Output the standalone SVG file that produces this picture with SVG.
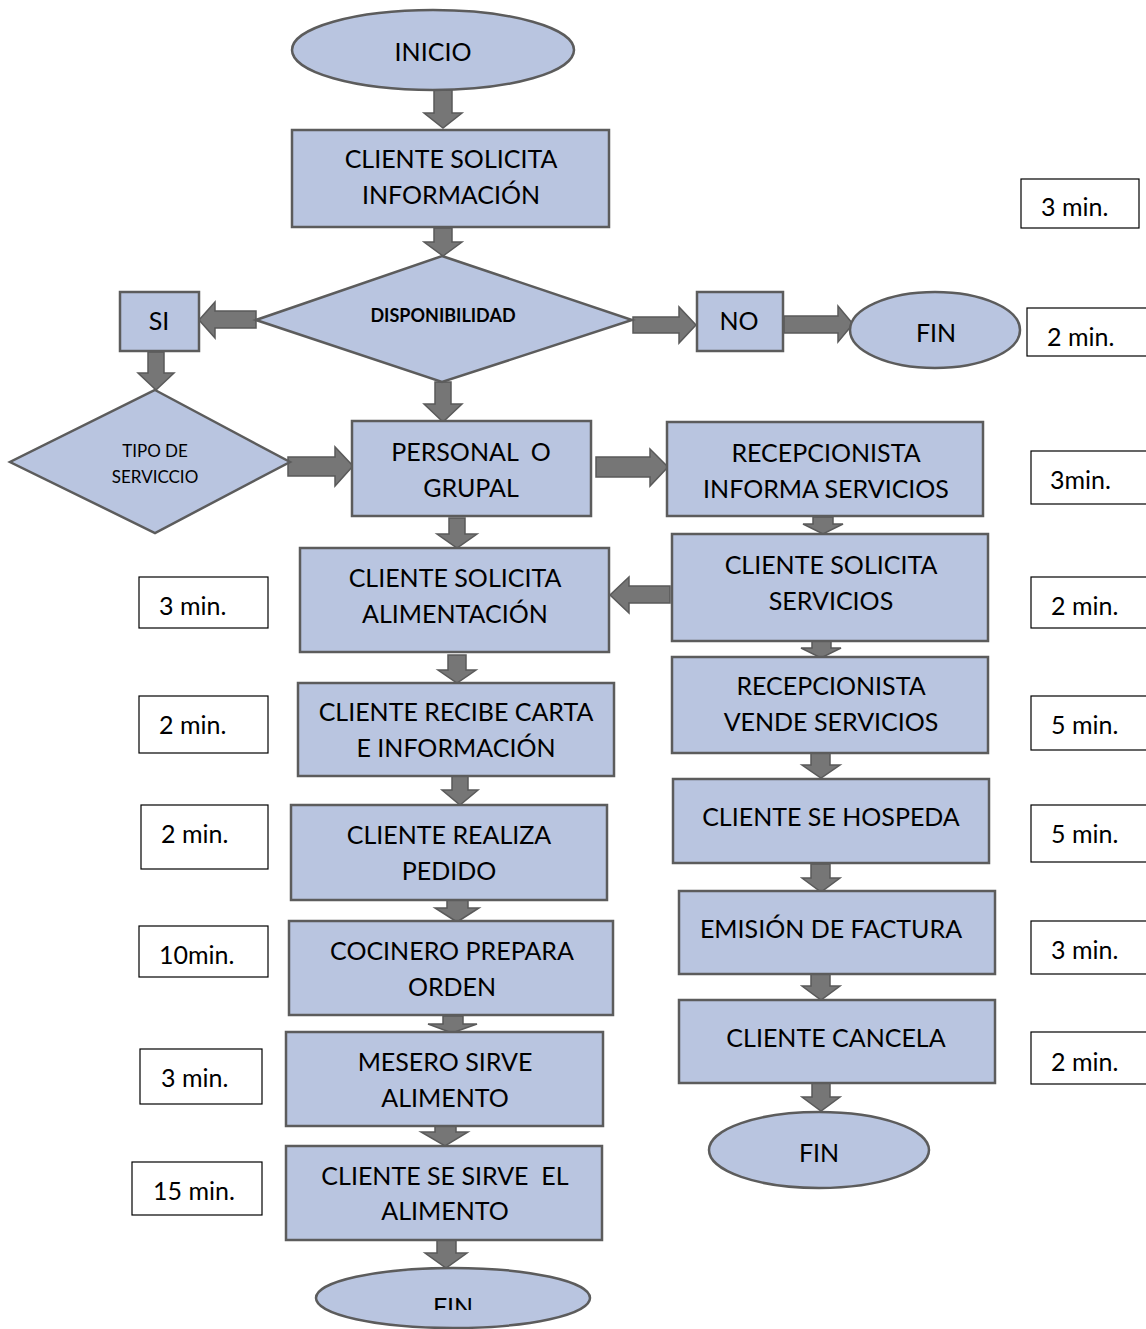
<svg xmlns="http://www.w3.org/2000/svg" width="1146" height="1329" viewBox="0 0 1146 1329">
  <style>
    .shape { fill: #b9c5e0; stroke: #5c5c5c; stroke-width: 2.5; }
    .note { fill: #ffffff; stroke: #000000; stroke-width: 1.2; }
    .arrow { fill: #767676; stroke: #5a5a5a; stroke-width: 1.5; stroke-linejoin: miter; }
    text { font-family: Lato, "Liberation Sans", sans-serif; font-size: 25px; fill: #000000; }
    .c { text-anchor: middle; }
    .small { font-size: 17px; }
    .bold { font-size: 18px; font-weight: bold; }
  </style>
  <defs>
    <clipPath id="finClip">
      <rect x="300" y="1260" width="320" height="50"/>
    </clipPath>
  </defs>

  <rect width="1146" height="1329" fill="#ffffff"/>

  <!-- connectors -->
  <g id="connectors">
    <polygon class="arrow" points="434,90 452,90 452,113 462,113 443,128 424,113 434,113"/>
    <polygon class="arrow" points="434,228 452,228 452,242 462,242 443,256 424,242 434,242"/>
    <polygon class="arrow" points="256,311 215,311 215,302 199,320 215,338 215,328 256,328"/>
    <polygon class="arrow" points="633,317 679,317 679,307 696,325 679,343 679,333 633,333"/>
    <polygon class="arrow" points="784,316 838,316 838,306 853,324 838,342 838,333 784,333"/>
    <polygon class="arrow" points="148,352 164,352 164,373 174,373 156,390 138,373 148,373"/>
    <polygon class="arrow" points="288,457 335,457 335,447 353,466 335,486 335,476 288,476"/>
    <polygon class="arrow" points="435,382 451,382 451,404 462,404 443,422 424,404 435,404"/>
    <polygon class="arrow" points="596,457 650,457 650,449 668,467 650,486 650,477 596,477"/>
    <polygon class="arrow" points="813,517 833,517 833,524 843,524 823,534 803,524 813,524"/>
    <polygon class="arrow" points="670,586 629,586 629,577 610,595 629,613 629,603 670,603"/>
    <polygon class="arrow" points="449,518 465,518 465,534 477,534 457,548 437,534 449,534"/>
    <polygon class="arrow" points="812,641 831,641 831,648 841,648 821,658 801,648 812,648"/>
    <polygon class="arrow" points="448,655 466,655 466,670 476,670 457,683 438,670 448,670"/>
    <polygon class="arrow" points="811,753 830,753 830,765 840,765 821,778 802,765 811,765"/>
    <polygon class="arrow" points="452,776 468,776 468,790 478,790 460,805 442,790 452,790"/>
    <polygon class="arrow" points="811,864 830,864 830,878 840,878 821,892 802,878 811,878"/>
    <polygon class="arrow" points="447,893 468,893 468,908 479,908 457,922 435,908 447,908"/>
    <polygon class="arrow" points="811,972 830,972 830,986 840,986 821,1000 802,986 811,986"/>
    <polygon class="arrow" points="443,1016 463,1016 463,1024 477,1024 452,1033 428,1024 443,1024"/>
    <polygon class="arrow" points="435,1120 456,1120 456,1132 468,1132 445,1146 421,1132 435,1132"/>
    <polygon class="arrow" points="437,1240 456,1240 456,1253 467,1253 446,1268 425,1253 437,1253"/>
    <polygon class="arrow" points="812,1083 830,1083 830,1097 840,1097 821,1111 802,1097 812,1097"/>
  </g>

  <!-- start -->
  <g id="inicio">
    <ellipse class="shape" cx="433" cy="50" rx="141" ry="40"/>
    <text class="c" x="433" y="61">INICIO</text>
  </g>

  <g id="solicita-informacion">
    <rect class="shape" x="292" y="130" width="317" height="97"/>
    <text class="c" x="451" y="168">CLIENTE SOLICITA</text>
    <text class="c" x="451" y="204">INFORMACIÓN</text>
  </g>

  <g id="disponibilidad">
    <polygon class="shape" points="442,256 632,320 442,382 256,320"/>
    <text class="c bold" x="443" y="322">DISPONIBILIDAD</text>
  </g>

  <g id="si">
    <rect class="shape" x="120" y="292" width="79" height="59"/>
    <text class="c" x="159" y="330">SI</text>
  </g>

  <g id="no">
    <rect class="shape" x="697" y="292" width="86" height="59"/>
    <text class="c" x="739" y="330">NO</text>
  </g>

  <g id="fin-no">
    <ellipse class="shape" cx="935" cy="330" rx="85" ry="38"/>
    <text class="c" x="936" y="342">FIN</text>
  </g>

  <g id="tipo-servicio">
    <polygon class="shape" points="155,390 290,462 155,533 10,462"/>
    <text class="c small" x="155" y="457">TIPO DE</text>
    <text class="c small" x="155" y="483">SERVICCIO</text>
  </g>

  <g id="personal-grupal">
    <rect class="shape" x="352" y="421" width="239" height="95"/>
    <text class="c" x="471" y="461" xml:space="preserve">PERSONAL  O</text>
    <text class="c" x="471" y="497">GRUPAL</text>
  </g>

  <g id="recepcionista-informa">
    <rect class="shape" x="667" y="422" width="316" height="94"/>
    <text class="c" x="826" y="462">RECEPCIONISTA</text>
    <text class="c" x="826" y="498">INFORMA SERVICIOS</text>
  </g>

  <g id="solicita-servicios">
    <rect class="shape" x="672" y="534" width="316" height="107"/>
    <text class="c" x="831" y="574">CLIENTE SOLICITA</text>
    <text class="c" x="831" y="610">SERVICIOS</text>
  </g>

  <g id="vende-servicios">
    <rect class="shape" x="672" y="657" width="316" height="96"/>
    <text class="c" x="831" y="695">RECEPCIONISTA</text>
    <text class="c" x="831" y="731">VENDE SERVICIOS</text>
  </g>

  <g id="hospeda">
    <rect class="shape" x="673" y="779" width="316" height="84"/>
    <text class="c" x="831" y="826">CLIENTE SE HOSPEDA</text>
  </g>

  <g id="factura">
    <rect class="shape" x="679" y="891" width="316" height="83"/>
    <text class="c" x="831" y="938">EMISIÓN DE FACTURA</text>
  </g>

  <g id="cancela">
    <rect class="shape" x="679" y="1000" width="316" height="83"/>
    <text class="c" x="836" y="1047">CLIENTE CANCELA</text>
  </g>

  <g id="fin-hospedaje">
    <ellipse class="shape" cx="819" cy="1150" rx="110" ry="38"/>
    <text class="c" x="819" y="1162">FIN</text>
  </g>

  <g id="solicita-alimentacion">
    <rect class="shape" x="300" y="548" width="309" height="104"/>
    <text class="c" x="455" y="587">CLIENTE SOLICITA</text>
    <text class="c" x="455" y="623">ALIMENTACIÓN</text>
  </g>

  <g id="recibe-carta">
    <rect class="shape" x="298" y="683" width="316" height="93"/>
    <text class="c" x="456" y="721">CLIENTE RECIBE CARTA</text>
    <text class="c" x="456" y="757">E INFORMACIÓN</text>
  </g>

  <g id="realiza-pedido">
    <rect class="shape" x="291" y="805" width="316" height="95"/>
    <text class="c" x="449" y="844">CLIENTE REALIZA</text>
    <text class="c" x="449" y="880">PEDIDO</text>
  </g>

  <g id="prepara-orden">
    <rect class="shape" x="289" y="921" width="324" height="94"/>
    <text class="c" x="452" y="960">COCINERO PREPARA</text>
    <text class="c" x="452" y="996">ORDEN</text>
  </g>

  <g id="sirve-alimento">
    <rect class="shape" x="286" y="1032" width="317" height="94"/>
    <text class="c" x="445" y="1071">MESERO SIRVE</text>
    <text class="c" x="445" y="1107">ALIMENTO</text>
  </g>

  <g id="se-sirve">
    <rect class="shape" x="286" y="1146" width="316" height="94"/>
    <text class="c" x="445" y="1185" xml:space="preserve">CLIENTE SE SIRVE  EL</text>
    <text class="c" x="445" y="1220">ALIMENTO</text>
  </g>

  <g id="fin-alimento">
    <ellipse class="shape" cx="453" cy="1298" rx="137" ry="30"/>
    <text class="c" x="453" y="1316" clip-path="url(#finClip)">FIN</text>
  </g>

  <!-- time notes -->
  <g id="tiempos">
    <rect class="note" x="1021" y="179" width="118" height="49"/>
    <text x="1041" y="216">3 min.</text>
    <rect class="note" x="1027" y="308" width="125" height="48"/>
    <text x="1047" y="346">2 min.</text>
    <rect class="note" x="1031" y="451" width="121" height="53"/>
    <text x="1050" y="489">3min.</text>
    <rect class="note" x="1031" y="577" width="121" height="51"/>
    <text x="1051" y="615">2 min.</text>
    <rect class="note" x="1031" y="696" width="121" height="54"/>
    <text x="1051" y="734">5 min.</text>
    <rect class="note" x="1031" y="805" width="121" height="57"/>
    <text x="1051" y="843">5 min.</text>
    <rect class="note" x="1031" y="921" width="121" height="53"/>
    <text x="1051" y="959">3 min.</text>
    <rect class="note" x="1031" y="1032" width="121" height="52"/>
    <text x="1051" y="1071">2 min.</text>

    <rect class="note" x="139" y="577" width="129" height="51"/>
    <text x="159" y="615">3 min.</text>
    <rect class="note" x="139" y="696" width="129" height="57"/>
    <text x="159" y="734">2 min.</text>
    <rect class="note" x="141" y="805" width="127" height="64"/>
    <text x="161" y="843">2 min.</text>
    <rect class="note" x="139" y="926" width="129" height="51"/>
    <text x="159" y="964">10min.</text>
    <rect class="note" x="140" y="1049" width="122" height="55"/>
    <text x="161" y="1087">3 min.</text>
    <rect class="note" x="132" y="1162" width="130" height="53"/>
    <text x="153" y="1200">15 min.</text>
  </g>
</svg>
